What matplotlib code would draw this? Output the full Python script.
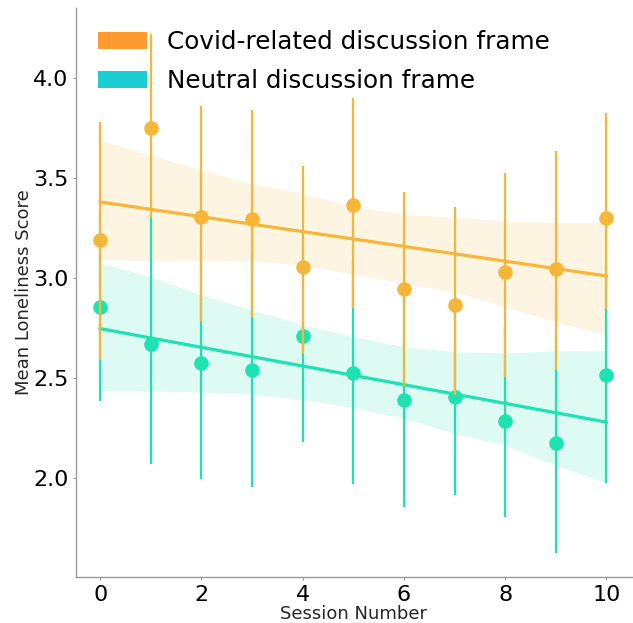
import numpy as np
import matplotlib
matplotlib.use("Agg")
import matplotlib.pyplot as plt
from matplotlib.patches import Patch

# session numbers
sessions = np.arange(11)

# covid-related frame: means and CI bounds per session
covid_mean = [3.19, 3.75, 3.306, 3.294, 3.055, 3.364, 2.945, 2.865, 3.03, 3.046, 3.30]
covid_hi = [3.78, 4.22, 3.858, 3.84, 3.56, 3.90, 3.427, 3.353, 3.525, 3.633, 3.823]
covid_lo = [2.59, 3.30, 2.787, 2.807, 2.62, 2.85, 2.46, 2.416, 2.506, 2.54, 2.845]
covid_band_hi = [3.688, 3.613, 3.539, 3.469, 3.422, 3.356, 3.319, 3.303, 3.284, 3.276, 3.276]
covid_band_lo = [3.093, 3.09, 3.088, 3.085, 3.065, 3.02, 2.975, 2.932, 2.857, 2.782, 2.716]

# neutral frame
neutral_mean = [2.857, 2.67, 2.576, 2.541, 2.711, 2.526, 2.393, 2.405, 2.288, 2.175, 2.518]
neutral_hi = [3.326, 3.32, 3.155, 3.122, 3.238, 3.078, 2.926, 2.89, 2.768, 2.72, 3.057]
neutral_lo = [2.388, 2.07, 1.997, 1.96, 2.184, 1.974, 1.86, 1.92, 1.808, 1.63, 1.979]
neutral_band_hi = [3.076, 3.006, 2.915, 2.84, 2.766, 2.707, 2.657, 2.633, 2.627, 2.637, 2.637]
neutral_band_lo = [2.441, 2.438, 2.43, 2.421, 2.395, 2.355, 2.30, 2.225, 2.167, 2.067, 1.979]

labels = ['Covid-related discussion frame', 'Neutral discussion frame']

c_covid = '#F7B638'
c_neutral = '#1DE2B2'

fig = plt.figure(figsize=(6.33, 6.23), dpi=100)
ax = fig.add_axes([0.120, 0.074, 0.878, 0.913])

def draw(mean, lo, hi, band_lo, band_hi, color):
    ax.scatter(sessions, mean, s=110, color=color, linewidths=0, zorder=1)
    ax.fill_between(sessions, band_lo, band_hi, color=color, alpha=0.15, linewidth=0, zorder=1)
    ax.vlines(sessions, lo, hi, color=color, linewidth=1.6, zorder=2)
    slope, icpt = np.polyfit(sessions, mean, 1)
    ax.plot(sessions, icpt + slope * sessions, color=color, linewidth=2.3, zorder=2)

# neutral first, covid on top
draw(neutral_mean, neutral_lo, neutral_hi, neutral_band_lo, neutral_band_hi, c_neutral)
draw(covid_mean, covid_lo, covid_hi, covid_band_lo, covid_band_hi, c_covid)

ax.set_xlim(-0.48, 10.5)
ax.set_ylim(1.509, 4.347)
ax.set_xticks([0, 2, 4, 6, 8, 10])
ax.set_yticks([2.0, 2.5, 3.0, 3.5, 4.0])
ax.tick_params(labelsize=16, length=2, color='#999999', pad=3.5)

ax.spines['top'].set_visible(False)
ax.spines['right'].set_visible(False)
for s in ['left', 'bottom']:
    ax.spines[s].set_color('#999999')
    ax.spines[s].set_linewidth(1.0)

ax.set_xlabel('Session Number', fontsize=13, color='#262626', labelpad=0)
ax.set_ylabel('Mean Loneliness Score', fontsize=13, color='#262626', labelpad=0)

handles = [Patch(facecolor='#FD9B30', edgecolor='none'),
           Patch(facecolor='#1ACED3', edgecolor='none')]
ax.legend(handles, labels, loc='upper left', bbox_to_anchor=(0.0, 1.0),
          fontsize=17.7, frameon=False, handlelength=2.0, handleheight=0.7,
          handletextpad=0.8, labelspacing=0.62, borderaxespad=0.5)

fig.savefig('out.png', dpi=100)
